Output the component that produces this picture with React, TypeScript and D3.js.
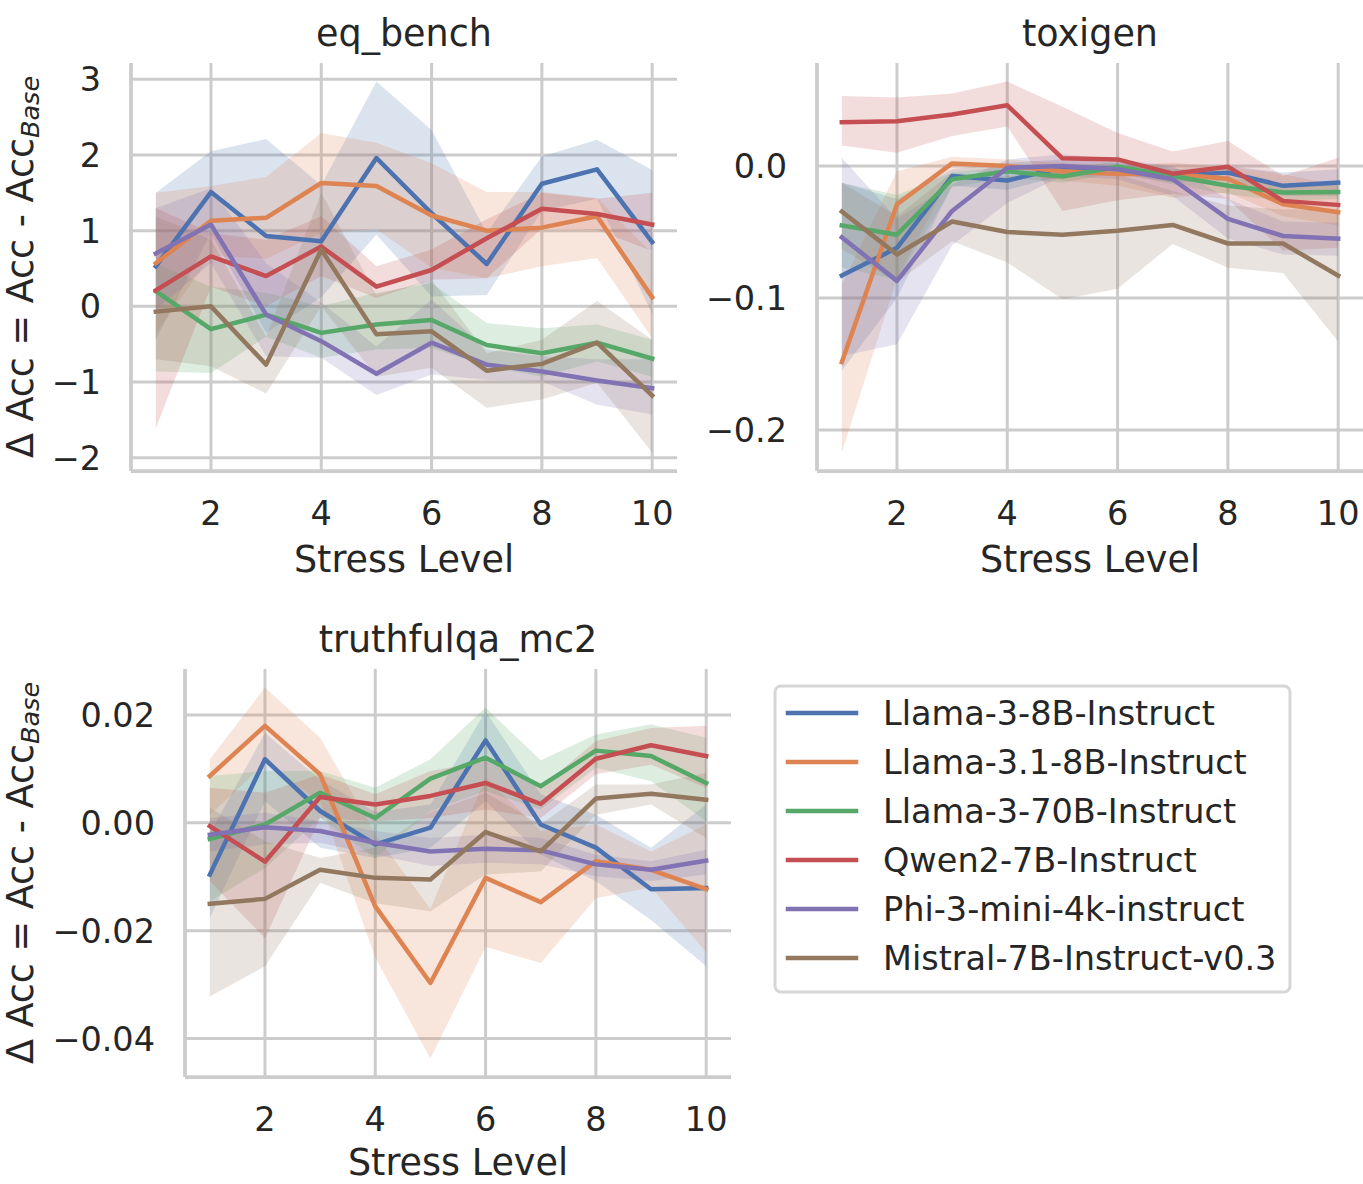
import React from 'react';
import * as d3 from 'd3';

const STRESS_LEVELS = [1, 2, 3, 4, 5, 6, 7, 8, 9, 10];
const MODELS = [
  'Llama-3-8B-Instruct',
  'Llama-3.1-8B-Instruct',
  'Llama-3-70B-Instruct',
  'Qwen2-7B-Instruct',
  'Phi-3-mini-4k-instruct',
  'Mistral-7B-Instruct-v0.3',
];
const COLORS = ['#4C72B0', '#DD8452', '#55A868', '#C44E52', '#8172B3', '#937860'];
const X_TICKS = [2, 4, 6, 8, 10];
const X_TICK_LABELS = ['2', '4', '6', '8', '10'];

// ---- eq_bench ----
const eqBenchMean = [
  [0.53, 1.51, 0.93, 0.86, 1.96, 1.23, 0.56, 1.62, 1.81, 0.85],
  [0.57, 1.13, 1.17, 1.63, 1.59, 1.2, 1.0, 1.04, 1.19, 0.12],
  [0.2, -0.3, -0.11, -0.35, -0.24, -0.18, -0.51, -0.62, -0.48, -0.69],
  [0.21, 0.66, 0.4, 0.79, 0.26, 0.48, 0.9, 1.29, 1.22, 1.08],
  [0.7, 1.08, -0.11, -0.46, -0.89, -0.48, -0.77, -0.86, -0.98, -1.08],
  [-0.07, 0.0, -0.77, 0.75, -0.37, -0.33, -0.85, -0.76, -0.48, -1.18],
];
const eqBenchLower = [
  [-0.44, 0.97, -0.35, 0.12, 0.95, 0.13, 0.15, 1.26, 1.42, -0.1],
  [-0.36, 0.67, 0.63, 0.97, 1.02, 0.51, 0.37, 0.53, 0.64, -0.42],
  [-0.86, -0.88, -0.4, -0.68, -0.57, -0.55, -0.79, -0.93, -0.73, -0.93],
  [-1.61, 0.26, 0.0, 0.4, 0.11, 0.35, 0.37, 1.03, 1.01, 0.73],
  [-0.04, 0.57, -0.66, -0.68, -1.17, -0.9, -0.97, -0.99, -1.3, -1.43],
  [-0.7, -0.79, -1.15, 0.0, -0.93, -0.81, -1.34, -1.23, -1.01, -1.93],
];
const eqBenchUpper = [
  [1.5, 2.05, 2.21, 1.6, 2.97, 2.33, 0.97, 1.98, 2.2, 1.8],
  [1.5, 1.59, 1.71, 2.29, 2.16, 1.89, 1.51, 1.51, 1.43, 0.7],
  [0.57, 0.26, 0.18, 0.0, 0.18, 0.31, -0.22, -0.29, -0.24, -0.44],
  [1.3, 0.97, 0.88, 1.19, 0.53, 0.75, 1.15, 1.5, 1.42, 1.5],
  [1.3, 1.56, 0.57, 0.05, -0.53, 0.09, -0.57, -0.66, -0.7, -0.7],
  [1.19, 0.88, -0.4, 1.5, 0.15, 0.35, -0.62, -0.44, 0.07, -0.44],
];
const EQ_TICKS = [-2, -1, 0, 1, 2, 3];
const EQ_TICK_LABELS = ['\u22122', '\u22121', '0', '1', '2', '3'];

// ---- toxigen ----
const toxigenMean = [
  [-0.083, -0.062, -0.0076, -0.011, -0.001, -0.002, -0.007, -0.005, -0.015, -0.0126],
  [-0.1486, -0.029, 0.002, 0.0, -0.004, -0.006, -0.006, -0.0096, -0.029, -0.035],
  [-0.045, -0.052, -0.01, -0.004, -0.008, -0.0005, -0.0076, -0.015, -0.02, -0.0197],
  [0.0332, 0.034, 0.039, 0.046, 0.0058, 0.005, -0.0058, -0.0005, -0.0264, -0.0295],
  [-0.054, -0.087, -0.034, -0.0013, 0.0, -0.0025, -0.01, -0.04, -0.053, -0.055],
  [-0.0345, -0.067, -0.042, -0.05, -0.052, -0.049, -0.0446, -0.0587, -0.0587, -0.083],
];
const toxigenLower = [
  [-0.155, -0.1, -0.015, -0.018, -0.0076, -0.0063, -0.0126, -0.011, -0.0227, -0.0227],
  [-0.217, -0.085, -0.005, -0.005, -0.011, -0.015, -0.024, -0.02, -0.038, -0.045],
  [-0.077, -0.086, -0.016, -0.0088, -0.0126, -0.005, -0.0139, -0.0214, -0.0264, -0.025],
  [0.0156, 0.01, 0.0227, 0.03, -0.034, -0.026, -0.021, -0.025, -0.064, -0.062],
  [-0.144, -0.135, -0.06, -0.028, -0.0076, -0.01, -0.0227, -0.055, -0.067, -0.068],
  [-0.063, -0.088, -0.057, -0.073, -0.101, -0.093, -0.059, -0.077, -0.081, -0.133],
];
const toxigenUpper = [
  [-0.0126, -0.025, -0.0025, 0.0025, 0.005, 0.0025, -0.0025, 0.0, -0.005, -0.0025],
  [-0.09, -0.004, 0.007, 0.005, 0.0025, 0.0, 0.0025, -0.001, -0.006, -0.015],
  [-0.0126, -0.022, -0.005, -0.0005, -0.0025, 0.0038, -0.0013, -0.0088, -0.0139, -0.0139],
  [0.053, 0.052, 0.055, 0.064, 0.045, 0.025, 0.011, 0.019, -0.0076, 0.0063],
  [0.0063, -0.04, -0.014, 0.005, 0.009, 0.005, 0.0, -0.025, -0.042, -0.043],
  [-0.0126, -0.038, -0.005, -0.0076, -0.005, -0.0063, -0.019, -0.03, -0.033, -0.033],
];
const TOX_TICKS = [-0.2, -0.1, 0.0];
const TOX_TICK_LABELS = ['\u22120.2', '\u22120.1', '0.0'];

// ---- truthfulqa_mc2 ----
const truthfulMean = [
  [-0.0096, 0.0118, 0.0022, -0.004, -0.0009, 0.0153, -0.0003, -0.0046, -0.0123, -0.0121],
  [0.0087, 0.018, 0.009, -0.0155, -0.0297, -0.0102, -0.0147, -0.0071, -0.0087, -0.0123],
  [-0.003, -0.0003, 0.0056, 0.0009, 0.0082, 0.0121, 0.0068, 0.0134, 0.0124, 0.0074],
  [-0.0006, -0.0072, 0.0048, 0.0034, 0.005, 0.0074, 0.0035, 0.0119, 0.0144, 0.0124],
  [-0.0022, -0.0008, -0.0015, -0.0037, -0.0053, -0.0048, -0.0051, -0.0077, -0.0087, -0.007],
  [-0.015, -0.0141, -0.0087, -0.0102, -0.0105, -0.0017, -0.0053, 0.0045, 0.0054, 0.0043],
];
const truthfulLower = [
  [-0.0176, 0.004, -0.0046, -0.0065, -0.0046, 0.004, -0.0059, -0.0108, -0.018, -0.0266],
  [0.0015, 0.011, 0.004, -0.025, -0.0437, -0.023, -0.026, -0.014, -0.012, -0.024],
  [-0.0146, -0.0084, 0.0009, -0.0065, 0.0022, 0.0059, 0.0025, 0.0102, 0.0077, 0.0003],
  [-0.0108, -0.0214, 0.0009, 0.0003, 0.0009, 0.0025, 0.0009, 0.009, 0.0108, 0.0065],
  [-0.0053, -0.004, -0.0037, -0.0059, -0.008, -0.0074, -0.0077, -0.0099, -0.0108, -0.0096],
  [-0.0322, -0.0266, -0.0111, -0.0149, -0.0164, -0.0096, -0.009, 0.0015, 0.0034, -0.0028],
];
const truthfulUpper = [
  [-0.002, 0.0167, 0.008, 0.002, 0.0034, 0.0207, 0.0053, 0.0015, -0.0046, 0.0034],
  [0.0118, 0.0251, 0.0158, -0.002, -0.016, 0.0084, -0.0015, -0.0003, -0.0053, -0.0003],
  [0.0087, 0.0096, 0.0096, 0.0065, 0.0118, 0.0214, 0.0116, 0.0164, 0.0183, 0.0158],
  [0.0065, 0.0056, 0.009, 0.0053, 0.0096, 0.0115, 0.0065, 0.0152, 0.0176, 0.018],
  [0.0009, 0.0019, 0.0003, -0.0015, -0.0028, -0.0022, -0.0028, -0.0059, -0.0071, -0.005],
  [0.0028, -0.0034, -0.0065, -0.0046, 0.0019, 0.0056, -0.0003, 0.0071, 0.0071, 0.0093],
];
const TQA_TICKS = [-0.04, -0.02, 0.0, 0.02];
const TQA_TICK_LABELS = ['\u22120.04', '\u22120.02', '0.00', '0.02'];

const FONT = '"DejaVu Sans", Verdana, sans-serif';
const TEXT = '#262626';
const GRID = '#cccccc';
const TICK_FS = 33.5;
const LABEL_FS = 36.5;

type PanelProps = {
  title: string;
  mean: number[][];
  lower: number[][];
  upper: number[][];
  yTicks: number[];
  yTickLabels: string[];
  left: number;
  top: number;
  width: number;
  height: number;
  xLabelOffset: number;
};

function Panel({ title, mean, lower, upper, yTicks, yTickLabels, left, top, width, height, xLabelOffset }: PanelProps) {
  const xMin = d3.min(STRESS_LEVELS)!;
  const xMax = d3.max(STRESS_LEVELS)!;
  const xm = (xMax - xMin) * 0.05;
  const x = d3.scaleLinear().domain([xMin - xm, xMax + xm]).range([left, left + width]);
  const lo = d3.min(lower.flat())!;
  const hi = d3.max(upper.flat())!;
  const ym = (hi - lo) * 0.05;
  const y = d3.scaleLinear().domain([lo - ym, hi + ym]).range([top + height, top]);

  const line = d3
    .line<number>()
    .x((_, i) => x(STRESS_LEVELS[i]))
    .y((d) => y(d));

  const bottom = top + height;
  return (
    <g>
      {yTicks.map((t) => (
        <line key={'gy' + t} x1={left} x2={left + width} y1={y(t)} y2={y(t)} stroke={GRID} strokeWidth={3} />
      ))}
      {X_TICKS.map((t) => (
        <line key={'gx' + t} x1={x(t)} x2={x(t)} y1={top} y2={bottom} stroke={GRID} strokeWidth={3} />
      ))}
      {mean.map((_, s) => {
        const area = d3
          .area<number>()
          .x((_, i) => x(STRESS_LEVELS[i]))
          .y0((_, i) => y(lower[s][i]))
          .y1((_, i) => y(upper[s][i]));
        return <path key={'b' + s} d={area(STRESS_LEVELS) || ''} fill={COLORS[s]} fillOpacity={0.2} stroke="none" />;
      })}
      {mean.map((m, s) => (
        <path
          key={'l' + s}
          d={line(m) || ''}
          fill="none"
          stroke={COLORS[s]}
          strokeWidth={4.5}
          strokeLinejoin="round"
          strokeLinecap="square"
        />
      ))}
      <line x1={left} x2={left} y1={top} y2={bottom} stroke={GRID} strokeWidth={3.75} />
      <line x1={left} x2={left + width} y1={bottom} y2={bottom} stroke={GRID} strokeWidth={3.75} />
      {yTicks.map((t, i) => (
        <text key={'ty' + t} x={left - 30} y={y(t) + 12} textAnchor="end" fontSize={TICK_FS} fill={TEXT} fontFamily={FONT}>
          {yTickLabels[i]}
        </text>
      ))}
      {X_TICKS.map((t, i) => (
        <text key={'tx' + t} x={x(t)} y={bottom + 54} textAnchor="middle" fontSize={TICK_FS} fill={TEXT} fontFamily={FONT}>
          {X_TICK_LABELS[i]}
        </text>
      ))}
      <text x={left + width / 2} y={bottom + xLabelOffset} textAnchor="middle" fontSize={LABEL_FS} fill={TEXT} fontFamily={FONT}>
        Stress Level
      </text>
      <text x={left + width / 2} y={top - 17} textAnchor="middle" fontSize={LABEL_FS} fill={TEXT} fontFamily={FONT}>
        {title}
      </text>
    </g>
  );
}

function YLabel({ cx, cy }: { cx: number; cy: number }) {
  return (
    <text
      transform={`translate(${cx},${cy}) rotate(-90)`}
      textAnchor="middle"
      fontSize={LABEL_FS}
      fill={TEXT}
      fontFamily={FONT}
    >
      {'\u0394 Acc = Acc - Acc'}
      <tspan fontSize={25.5} fontStyle="italic" dy={6}>
        Base
      </tspan>
    </text>
  );
}

function Legend({ x, y }: { x: number; y: number }) {
  const rowH = 49;
  return (
    <g>
      <rect x={x} y={y} width={515} height={306} rx={6} ry={6} fill="#ffffff" fillOpacity={0.8} stroke={GRID} strokeOpacity={0.8} strokeWidth={3} />
      {MODELS.map((m, i) => {
        const cy = y + 27 + i * rowH;
        return (
          <g key={m}>
            <line x1={x + 13} x2={x + 81} y1={cy} y2={cy} stroke={COLORS[i]} strokeWidth={4.5} strokeLinecap="square" />
            <text x={x + 108} y={cy + 12} fontSize={TICK_FS} fill={TEXT} fontFamily={FONT}>
              {m}
            </text>
          </g>
        );
      })}
    </g>
  );
}

export default function App() {
  return (
    <svg
      width={1363}
      height={1184}
      viewBox="0 0 1363 1184"
      style={{ position: 'absolute', left: 0, top: 0, background: '#ffffff' }}
    >
      <rect x={0} y={0} width={1363} height={1184} fill="#ffffff" />
      <Panel
        title="eq_bench"
        mean={eqBenchMean}
        lower={eqBenchLower}
        upper={eqBenchUpper}
        yTicks={EQ_TICKS}
        yTickLabels={EQ_TICK_LABELS}
        left={131}
        top={63}
        width={546}
        height={408}
        xLabelOffset={101}
      />
      <Panel
        title="toxigen"
        mean={toxigenMean}
        lower={toxigenLower}
        upper={toxigenUpper}
        yTicks={TOX_TICKS}
        yTickLabels={TOX_TICK_LABELS}
        left={817}
        top={63}
        width={546}
        height={408}
        xLabelOffset={101}
      />
      <Panel
        title="truthfulqa_mc2"
        mean={truthfulMean}
        lower={truthfulLower}
        upper={truthfulUpper}
        yTicks={TQA_TICKS}
        yTickLabels={TQA_TICK_LABELS}
        left={185}
        top={669}
        width={546}
        height={408}
        xLabelOffset={98}
      />
      <YLabel cx={33} cy={267} />
      <YLabel cx={33} cy={873} />
      <Legend x={775} y={686} />
    </svg>
  );
}
